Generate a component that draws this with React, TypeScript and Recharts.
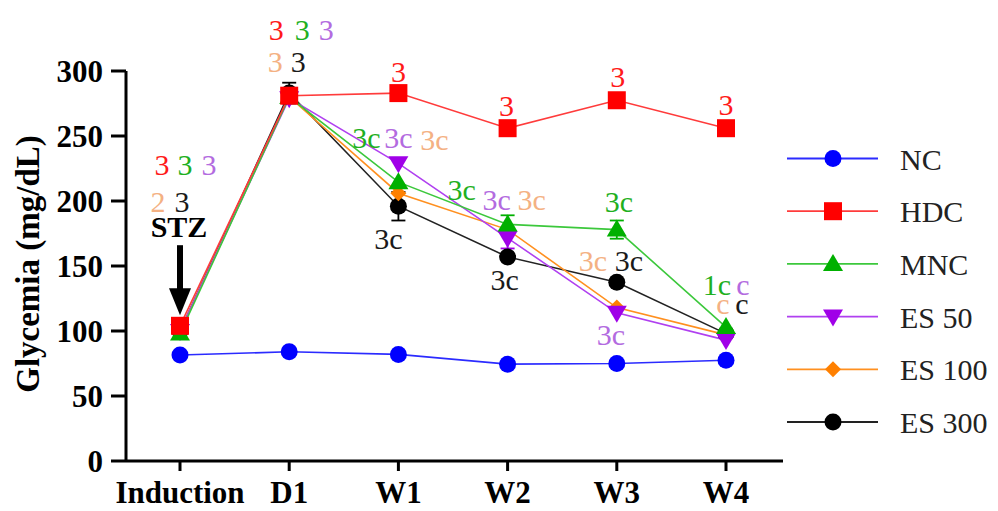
import { LineChart, Line, XAxis, YAxis, ReferenceDot, ReferenceLine } from "recharts";

const categories = ["Induction", "D1", "W1", "W2", "W3", "W4"];

const nc = [81.5, 84, 82, 74.5, 75, 77.5];
const hdc = [104, 281, 283, 256, 277.5, 256];
const mnc = [98, 280, 214.5, 182, 178, 103];
const es50 = [100, 279, 229, 171.5, 114, 93];
const es100 = [100, 280, 206, 178, 118, 97];
const es300 = [100, 283, 196, 157, 137.5, 98];

const mncErr = [0, 0, 0, 7, 7, 0];
const es50Err = [0, 0, 0, 8, 0, 0];
const es300Err = [0, 8, 11, 0, 0, 0];

const yTicks = [0, 50, 100, 150, 200, 250, 300];

const RED = "#ff1a1a";
const GREEN = "#1fb01f";
const PURPLE = "#b36be0";
const PEACH = "#f4b183";
const BLACK = "#1a1a1a";

// significance labels: category, height in data units, horizontal nudge in px
const notes = [
  { cat: "Induction", y: 220, dx: -18, text: "3", color: RED },
  { cat: "Induction", y: 220, dx: 5, text: "3", color: GREEN },
  { cat: "Induction", y: 220, dx: 29, text: "3", color: PURPLE },
  { cat: "Induction", y: 191.5, dx: -22, text: "2", color: PEACH },
  { cat: "Induction", y: 191.5, dx: 2, text: "3", color: BLACK },
  { cat: "D1", y: 323.8, dx: -13, text: "3", color: RED },
  { cat: "D1", y: 323.8, dx: 13, text: "3", color: GREEN },
  { cat: "D1", y: 323.8, dx: 37, text: "3", color: PURPLE },
  { cat: "D1", y: 299, dx: -14, text: "3", color: PEACH },
  { cat: "D1", y: 299, dx: 9, text: "3", color: BLACK },
  { cat: "W1", y: 291.5, dx: 0, text: "3", color: RED },
  { cat: "W1", y: 240.8, dx: -32, text: "3c", color: GREEN },
  { cat: "W1", y: 240.8, dx: 0, text: "3c", color: PURPLE },
  { cat: "W1", y: 239.2, dx: 36, text: "3c", color: PEACH },
  { cat: "W1", y: 163, dx: -10, text: "3c", color: BLACK },
  { cat: "W2", y: 265.4, dx: -1, text: "3", color: RED },
  { cat: "W2", y: 200.8, dx: -46, text: "3c", color: GREEN },
  { cat: "W2", y: 193, dx: -11, text: "3c", color: PURPLE },
  { cat: "W2", y: 193, dx: 24, text: "3c", color: PEACH },
  { cat: "W2", y: 131.5, dx: -3, text: "3c", color: BLACK },
  { cat: "W3", y: 287.7, dx: 1, text: "3", color: RED },
  { cat: "W3", y: 191.5, dx: 2, text: "3c", color: GREEN },
  { cat: "W3", y: 146, dx: -24, text: "3c", color: PEACH },
  { cat: "W3", y: 146, dx: 12, text: "3c", color: BLACK },
  { cat: "W3", y: 89, dx: -6, text: "3c", color: PURPLE },
  { cat: "W4", y: 266, dx: 0, text: "3", color: RED },
  { cat: "W4", y: 127.7, dx: -9, text: "1c", color: GREEN },
  { cat: "W4", y: 127.7, dx: 17, text: "c", color: PURPLE },
  { cat: "W4", y: 113, dx: -3, text: "c", color: PEACH },
  { cat: "W4", y: 113, dx: 16, text: "c", color: BLACK },
];

const rows = categories.map((c, i) => ({
  cat: c,
  nc: nc[i],
  hdc: hdc[i],
  mnc: mnc[i],
  es50: es50[i],
  es100: es100[i],
  es300: es300[i],
}));

const FONT = "'Liberation Serif', 'Times New Roman', serif";

type Shape = "circle" | "square" | "triangle" | "triangleDown" | "diamond";

function marker(shape: Shape, cx: number, cy: number, fill: string, key?: any) {
  switch (shape) {
    case "circle":
      return <circle key={key} cx={cx} cy={cy} r={8.5} fill={fill} />;
    case "square":
      return <rect key={key} x={cx - 9} y={cy - 9} width={18} height={18} fill={fill} />;
    case "triangle":
      return <polygon key={key} points={`${cx},${cy - 10} ${cx + 10},${cy + 7} ${cx - 10},${cy + 7}`} fill={fill} />;
    case "triangleDown":
      return <polygon key={key} points={`${cx},${cy + 10} ${cx + 10},${cy - 7} ${cx - 10},${cy - 7}`} fill={fill} />;
    default:
      return <polygon key={key} points={`${cx},${cy - 8} ${cx + 8},${cy} ${cx},${cy + 8} ${cx - 8},${cy}`} fill={fill} />;
  }
}

// drawn back to front; legend order is reversed
const series = [
  { key: "es300", name: "ES 300", line: "#222222", fill: "#000000", shape: "circle" as Shape, values: es300, err: es300Err },
  { key: "es100", name: "ES 100", line: "#ff9020", fill: "#ff8000", shape: "diamond" as Shape, values: es100, err: null },
  { key: "es50", name: "ES 50", line: "#b040f0", fill: "#a000e8", shape: "triangleDown" as Shape, values: es50, err: es50Err },
  { key: "mnc", name: "MNC", line: "#3cc83c", fill: "#00b000", shape: "triangle" as Shape, values: mnc, err: mncErr },
  { key: "hdc", name: "HDC", line: "#ff3b3b", fill: "#ff0000", shape: "square" as Shape, values: hdc, err: null },
  { key: "nc", name: "NC", line: "#2b2bff", fill: "#0000ff", shape: "circle" as Shape, values: nc, err: null },
];

// SEM whiskers, drawn underneath the series so markers hide the covered halves
const whiskers = series.flatMap((s) =>
  s.err
    ? categories
        .map((c, i) => ({ cat: c, lo: s.values[i] - s.err![i], hi: s.values[i] + s.err![i], color: s.fill, e: s.err![i] }))
        .filter((w) => w.e > 0)
    : []
);

function Arrow(props: any) {
  const { cx, cy } = props;
  return (
    <g>
      <rect x={cx - 3} y={cy} width={6} height={45} fill="#000" />
      <polygon points={`${cx - 11},${cy + 43} ${cx + 11},${cy + 43} ${cx},${cy + 70}`} fill="#000" />
    </g>
  );
}

const cap = (color: string) => (p: any) => (
  <line x1={p.cx - 7} x2={p.cx + 7} y1={p.cy} y2={p.cy} stroke={color} strokeWidth={1.8} />
);

export default function App() {
  const legendItems = [...series].reverse();
  return (
    <div style={{ position: "absolute", left: 0, top: 0, width: 998, height: 511, background: "#fff" }}>
      <LineChart width={998} height={511} data={rows} margin={{ top: 71, right: 215, bottom: 0, left: 0 }}>
        <XAxis
          dataKey="cat"
          height={50}
          padding={{ left: 54, right: 57 }}
          axisLine={{ stroke: "#000", strokeWidth: 3 }}
          tickLine={{ stroke: "#000", strokeWidth: 3 }}
          tickSize={10}
          tickMargin={10}
          tick={{ fontFamily: FONT, fontSize: 31, fontWeight: 700, fill: "#000" }}
          interval={0}
        />
        <YAxis
          width={126}
          domain={[0, 300]}
          ticks={yTicks}
          axisLine={{ stroke: "#000", strokeWidth: 3 }}
          tickLine={{ stroke: "#000", strokeWidth: 3 }}
          tickSize={15}
          tickMargin={8}
          tick={{ fontFamily: FONT, fontSize: 31, fontWeight: 700, fill: "#000" }}
          label={() => (
            <text
              x={28}
              y={264}
              transform="rotate(-90 28 264)"
              textAnchor="middle"
              dominantBaseline="central"
              fontFamily={FONT}
              fontSize={33}
              fontWeight={700}
              fill="#000"
            >
              Glycemia (mg/dL)
            </text>
          )}
        />
        {whiskers.map((w, i) => (
          <ReferenceLine
            key={`wl-${i}`}
            segment={[{ x: w.cat, y: w.lo }, { x: w.cat, y: w.hi }]}
            stroke={w.color}
            strokeWidth={1.8}
          />
        ))}
        {whiskers.map((w, i) => (
          <ReferenceDot key={`wh-${i}`} x={w.cat} y={w.hi} shape={cap(w.color)} />
        ))}
        {whiskers.map((w, i) => (
          <ReferenceDot key={`wlo-${i}`} x={w.cat} y={w.lo} shape={cap(w.color)} />
        ))}
        {series.map((s) => (
          <Line
            key={s.key}
            dataKey={s.key}
            name={s.name}
            stroke={s.line}
            strokeWidth={1.6}
            isAnimationActive={false}
            dot={(p: any) => marker(s.shape, p.cx, p.cy, s.fill, `${s.key}-${p.index}`)}
            activeDot={false}
          />
        ))}
        <ReferenceDot
          x="Induction"
          y={166}
          ifOverflow="visible"
          shape={(p: any) => <Arrow cx={p.cx} cy={p.cy} />}
        />
        <ReferenceDot
          x="Induction"
          y={172.3}
          ifOverflow="visible"
          shape={(p: any) => (
            <text x={p.cx - 1} y={p.cy} textAnchor="middle" fontFamily={FONT} fontSize={30} fontWeight={700} fill="#000">
              STZ
            </text>
          )}
        />
        {notes.map((n, i) => (
          <ReferenceDot
            key={`note-${i}`}
            x={n.cat}
            y={n.y}
            ifOverflow="visible"
            shape={(p: any) => (
              <text x={p.cx + n.dx} y={p.cy} textAnchor="middle" fontFamily={FONT} fontSize={30} fill={n.color}>
                {n.text}
              </text>
            )}
          />
        ))}
      </LineChart>
      <svg width={998} height={511} style={{ position: "absolute", left: 0, top: 0, pointerEvents: "none" }}>
        {legendItems.map((s, i) => {
          const y = 158.5 + i * 52.7;
          return (
            <g key={s.key}>
              <line x1={787} x2={878} y1={y} y2={y} stroke={s.line} strokeWidth={1.8} />
              {marker(s.shape, 833, y, s.fill)}
              <text x={900} y={y + 11} fontFamily={FONT} fontSize={30} fill="#222">
                {s.name}
              </text>
            </g>
          );
        })}
      </svg>
    </div>
  );
}
